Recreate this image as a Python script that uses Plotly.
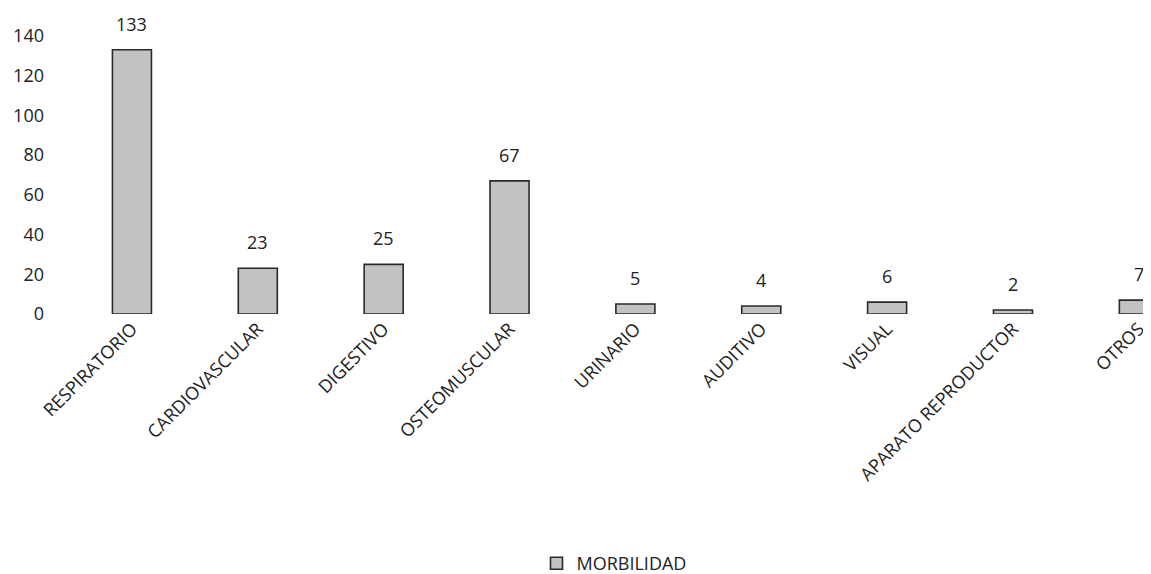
import plotly.graph_objects as go

categories = ["RESPIRATORIO", "CARDIOVASCULAR", "DIGESTIVO", "OSTEOMUSCULAR", "URINARIO",
              "AUDITIVO", "VISUAL", "APARATO REPRODUCTOR", "OTROS"]
values = [133, 23, 25, 67, 5, 4, 6, 2, 7]
series_name = "MORBILIDAD"
y_ticks = [0, 20, 40, 60, 80, 100, 120, 140]

font_family = "Open Sans, Liberation Sans, sans-serif"

fig = go.Figure()
fig.add_trace(go.Bar(
    x=categories, y=values, name=series_name,
    marker=dict(color="#c2c2c2", line=dict(color="#2a2a2a", width=1.6)),
    width=0.31, showlegend=True,
))

annotations = []
for c, v in zip(categories, values):
    annotations.append(dict(x=c, y=v, text=str(v), showarrow=False, xref="x", yref="y",
                            yanchor="bottom", yshift=12,
                            font=dict(size=18, color="#222", family=font_family)))

fig.update_layout(
    width=1151, height=574,
    margin=dict(l=61, r=0, t=8, b=262),
    paper_bgcolor="white", plot_bgcolor="white",
    font=dict(family=font_family, size=18, color="#222"),
    bargap=0.69,
    annotations=annotations,
    legend=dict(orientation="h", x=0.5, xanchor="center", y=-0.84, yanchor="middle",
                font=dict(size=18, color="#222"), itemwidth=30),
    xaxis=dict(range=[-0.5, 8.16], tickangle=-45, showline=False, showgrid=False,
               ticks="", tickfont=dict(size=18)),
    yaxis=dict(range=[0, 150], tickvals=y_ticks, showline=False, showgrid=False,
               zeroline=False, ticks="", ticklabelstandoff=24, tickfont=dict(size=18)),
)

fig.write_html("out.html")
